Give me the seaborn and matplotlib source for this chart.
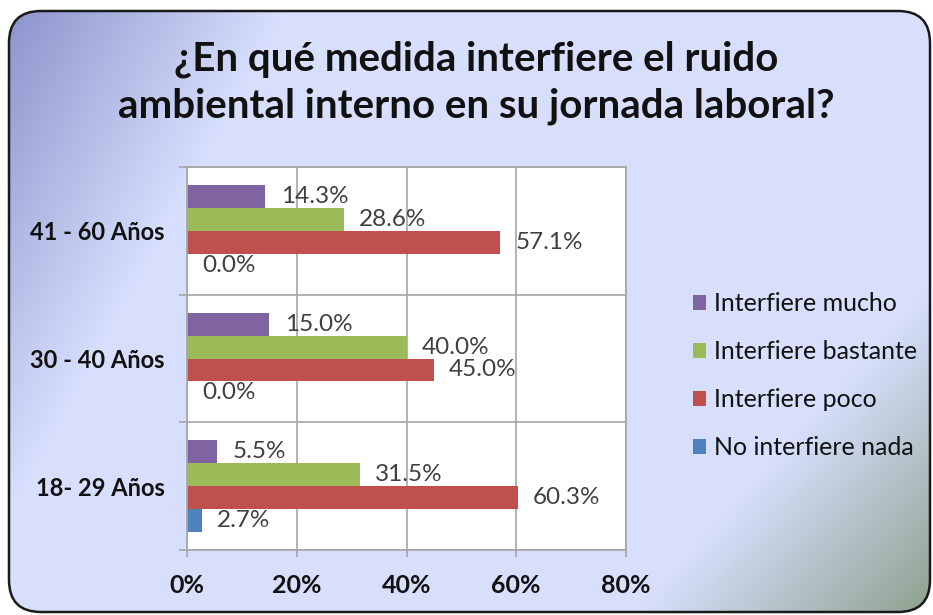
import numpy as np
import pandas as pd
import matplotlib
matplotlib.use("Agg")
import matplotlib.pyplot as plt
import seaborn as sns
from matplotlib.patches import FancyBboxPatch
from matplotlib.ticker import FuncFormatter, FixedLocator

# data
groups = ["41 - 60 Años", "30 - 40 Años", "18- 29 Años"]
levels = ["Interfiere mucho", "Interfiere bastante", "Interfiere poco", "No interfiere nada"]
mucho = [14.3, 15.0, 5.5]
bastante = [28.6, 40.0, 31.5]
poco = [57.1, 45.0, 60.3]
nada = [0.0, 0.0, 2.7]
colors = ["#8064A2", "#9BBB59", "#C0504D", "#4F81BD"]

rows = []
for lvl, vals in zip(levels, [mucho, bastante, poco, nada]):
    for g, v in zip(groups, vals):
        rows.append({"grupo": g, "nivel": lvl, "pct": v})
df = pd.DataFrame(rows)

sns.set_theme(style="white")
plt.rcParams["font.family"] = ["Lato", "DejaVu Sans"]

W, H = 933, 615
fig = plt.figure(figsize=(W / 100, H / 100), dpi=100)
fig.patch.set_facecolor("white")

# background panel with gradient
bg = fig.add_axes([0, 0, 1, 1], zorder=-1)
bg.set_xlim(0, W)
bg.set_ylim(H, 0)
bg.axis("off")
yy, xx = np.mgrid[0:H, 0:W].astype(float)
base = np.array([215, 223, 253]) / 255
ul = np.array([136, 144, 202]) / 255
lr = np.array([140, 160, 140]) / 255
t1 = np.clip(1 - (xx + 0.55 * yy) / 290, 0, 1)[..., None]
t2 = np.clip(((xx - W) + 0.9 * (yy - H) + 300) / 300, 0, 1)[..., None]
img = base * (1 - t1) + ul * t1
img = img * (1 - t2) + lr * t2
panel = FancyBboxPatch((9, 11), W - 12, H - 14, boxstyle="round,pad=0,rounding_size=32",
                       facecolor="none", edgecolor="#1a1a1a", linewidth=1.8, zorder=3)
bg.add_patch(panel)
im = bg.imshow(img, extent=(0, W, H, 0), aspect="auto", zorder=1)
im.set_clip_path(panel)

fig.text(476 / W, 1 - 83 / H, "¿En qué medida interfiere el ruido\nambiental interno en su jornada laboral?",
         ha="center", va="center", fontsize=29, fontweight="bold", color="#111111", linespacing=1.32)

# bars
ax = fig.add_axes([187 / W, 1 - 550 / H, (626 - 187) / W, (550 - 167) / H])
sns.barplot(data=df, x="pct", y="grupo", hue="nivel", order=groups, hue_order=levels,
            palette=colors, orient="h", width=0.72, ax=ax, linewidth=0, saturation=1)
ax.set_facecolor("white")
ax.set_xlim(0, 80)
ax.set_ylim(2.5, -0.5)
ax.set_xlabel("")
ax.set_ylabel("")
ax.xaxis.set_major_locator(FixedLocator([0, 20, 40, 60, 80]))
ax.xaxis.set_major_formatter(FuncFormatter(lambda v, p: f"{v:.0f}%"))
ax.yaxis.set_minor_locator(FixedLocator([-0.5, 0.5, 1.5, 2.5]))
ax.grid(True, axis="x", which="major", color="#A6A6A6", linewidth=1.2)
ax.grid(True, axis="y", which="minor", color="#A6A6A6", linewidth=1.2)
ax.set_axisbelow(True)
for s in ax.spines.values():
    s.set_color("#A6A6A6")
    s.set_linewidth(1.2)
ax.tick_params(axis="y", which="major", length=0, pad=16, labelsize=17, labelcolor="#111111")
ax.tick_params(axis="y", which="minor", length=6, color="#A6A6A6", width=1.2, left=True)
ax.tick_params(axis="x", which="major", length=5, color="#A6A6A6", width=1.2, bottom=True,
               pad=12, labelsize=18, labelcolor="#111111")
for lab in ax.get_yticklabels() + ax.get_xticklabels():
    lab.set_fontweight("bold")

for cont in ax.containers:
    ax.bar_label(cont, labels=[f"{b.get_width():.1f}%" for b in cont], padding=11,
                 fontsize=17.5, color="#404040")

handles, labels = ax.get_legend_handles_labels()
ax.legend(handles, labels, loc="upper left", bbox_to_anchor=(670 / W, 1 - 270 / H),
          bbox_transform=fig.transFigure, frameon=False, fontsize=18, handlelength=0.55,
          handleheight=0.55, handletextpad=0.3, labelspacing=1.0, labelcolor="#111111")

fig.savefig("out.png", dpi=100)
